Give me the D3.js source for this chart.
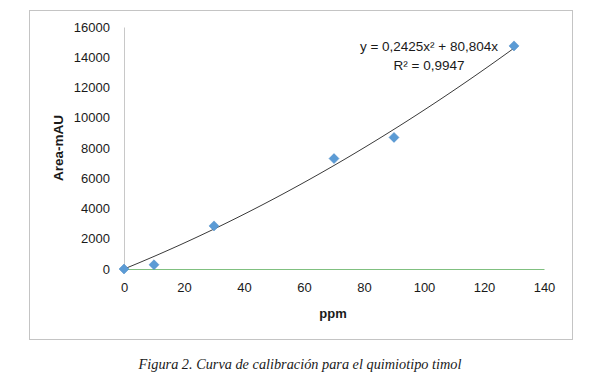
<!DOCTYPE html>
<html lang="es">
<head>
  <meta charset="UTF-8">
  <title>Curva de calibración - quimiotipo timol</title>
  <script src="https://d3js.org/d3.v7.min.js"></script>
  <style>
    body {
      margin: 0;
      background: #fff;
    }
    svg text {
      font-family: "Liberation Sans", Arial, sans-serif;
      fill: #1a1a1a;
    }
  </style>
</head>
<body>
  <div id="chart"></div>
  <script>
    // datos
    const ppm = [0, 10, 30, 70, 90, 130];
    const area = [0, 280, 2850, 7300, 8700, 14750];
    const xTicks = [0, 20, 40, 60, 80, 100, 120, 140];
    const yTicks = [0, 2000, 4000, 6000, 8000, 10000, 12000, 14000, 16000];
    // coeficientes de la línea de tendencia (y = a*x^2 + b*x)
    const fitCoef = [0.2425, 80.804];
    const eqLabels = ["y = 0,2425x² + 80,804x", "R² = 0,9947"];

    const W = 603, H = 392;

    const svg = d3.select("#chart")
      .append("svg")
      .attr("width", W)
      .attr("height", H);

    const x = d3.scaleLinear().domain([0, 140]).range([124, 544]);
    const y = d3.scaleLinear().domain([0, 16000]).range([269, 27]);

    // marco del gráfico
    svg.append("rect")
      .attr("x", 29.5)
      .attr("y", 10.5)
      .attr("width", 543)
      .attr("height", 329)
      .attr("fill", "none")
      .attr("stroke", "#c4c4c4");

    // eje y (sin marcas)
    const yAxis = svg.append("g")
      .attr("transform", `translate(${x(0)},0)`)
      .call(d3.axisLeft(y).tickValues(yTicks).tickSize(0).tickPadding(14).tickFormat(d3.format("d")));
    yAxis.select(".domain").attr("stroke", "#c8c8c8");
    yAxis.selectAll("text")
      .style("font-size", "13px")
      .attr("fill", "#1a1a1a");

    // eje x
    const xAxis = svg.append("g")
      .attr("transform", `translate(0,${y(0)})`)
      .call(d3.axisBottom(x).tickValues(xTicks).tickSize(0).tickPadding(14));
    xAxis.select(".domain").attr("stroke", "#80c080");
    xAxis.selectAll("text")
      .style("font-size", "13px")
      .attr("fill", "#1a1a1a");

    // títulos de ejes
    svg.append("text")
      .attr("x", 333)
      .attr("y", 318)
      .attr("text-anchor", "middle")
      .style("font-size", "13px")
      .style("font-weight", "bold")
      .text("ppm");

    svg.append("text")
      .attr("transform", `translate(63,148) rotate(-90)`)
      .attr("text-anchor", "middle")
      .style("font-size", "13.5px")
      .style("font-weight", "bold")
      .text("Area-mAU");

    // línea de tendencia polinómica
    const trendX = d3.range(0, 130.5, 1);
    const line = d3.line()
      .x(d => x(d))
      .y(d => y(fitCoef[0] * d * d + fitCoef[1] * d));
    svg.append("path")
      .datum(trendX)
      .attr("d", line)
      .attr("fill", "none")
      .attr("stroke", "#3a3a3a")
      .attr("stroke-width", 1);

    // puntos
    svg.selectAll("path.pt")
      .data(ppm)
      .enter()
      .append("path")
      .attr("class", "pt")
      .attr("d", d3.symbol().type(d3.symbolDiamond2).size(64))
      .attr("transform", (d, i) => `translate(${x(d)},${y(area[i])})`)
      .attr("fill", "#5b9bd5")
      .attr("stroke", "#4a88c4")
      .attr("stroke-width", 0.5);

    // ecuación
    svg.selectAll("text.eq")
      .data(eqLabels)
      .enter()
      .append("text")
      .attr("class", "eq")
      .attr("x", 429)
      .attr("y", (d, i) => 51 + i * 19)
      .attr("text-anchor", "middle")
      .style("font-size", "13.5px")
      .text(d => d);

    // pie de figura
    svg.append("text")
      .attr("x", 300)
      .attr("y", 369)
      .attr("text-anchor", "middle")
      .style("font-family", "'Liberation Serif', 'Times New Roman', serif")
      .style("font-style", "italic")
      .style("font-size", "14.3px")
      .attr("fill", "#000")
      .text("Figura 2. Curva de calibración para el quimiotipo timol");
  </script>
</body>
</html>
